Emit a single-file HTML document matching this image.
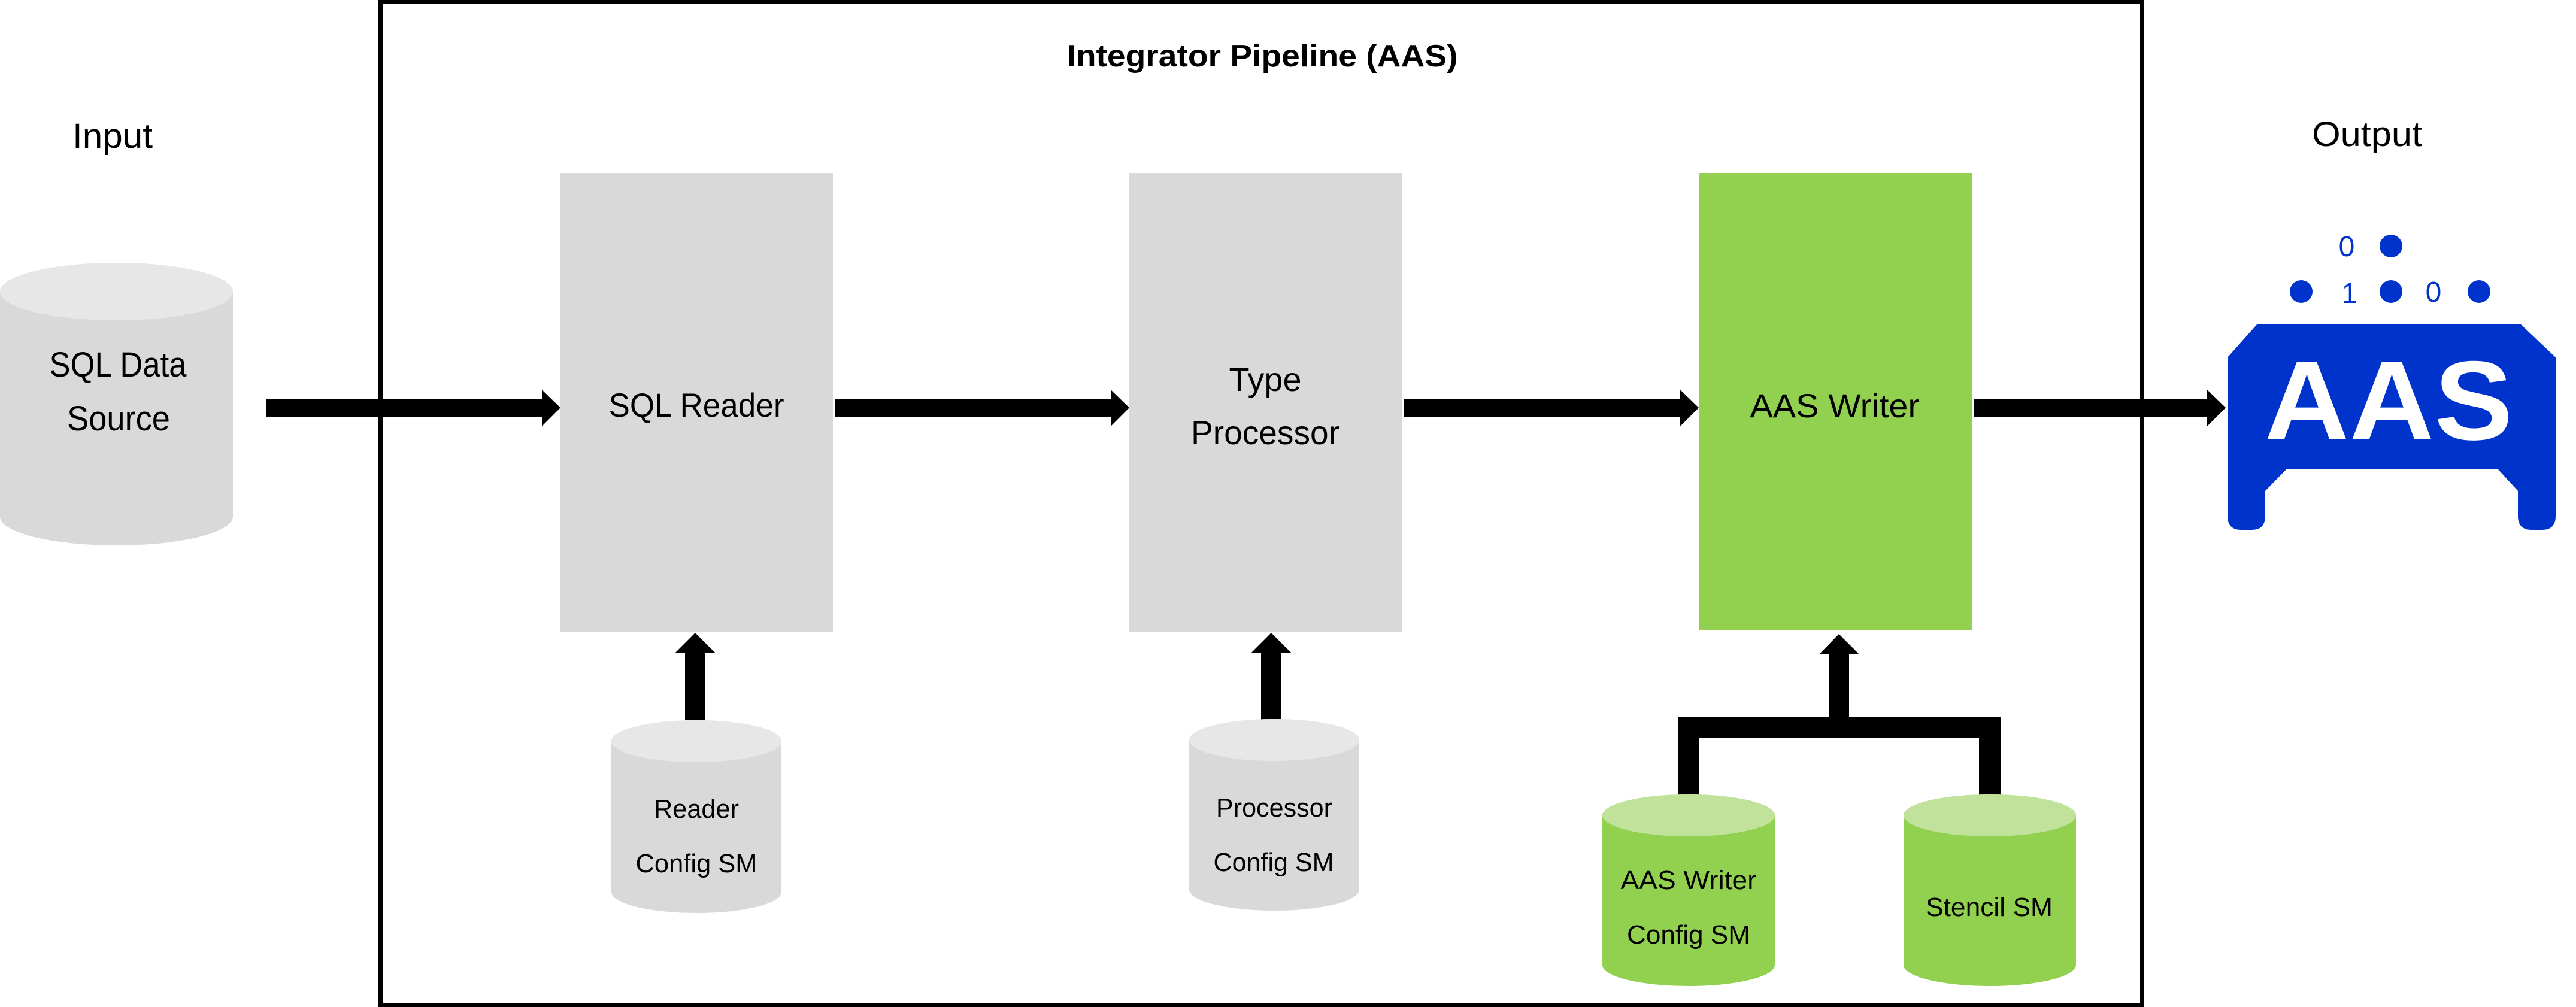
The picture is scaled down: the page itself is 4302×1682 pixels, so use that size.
<!DOCTYPE html>
<html><head><meta charset="utf-8"><style>html,body{margin:0;padding:0;background:#fff}svg{display:block}</style></head>
<body>
<svg width="4302" height="1682" viewBox="0 0 4302 1682" xmlns="http://www.w3.org/2000/svg" font-family="'Liberation Sans', sans-serif">
<rect x="0" y="0" width="4302" height="1682" fill="#fff"/>
<!-- frame -->
<rect x="635.5" y="3.5" width="2942" height="1675" fill="none" stroke="#000" stroke-width="7"/>
<text x="2108" y="111" font-size="52" font-weight="bold" text-anchor="middle" textLength="653" lengthAdjust="spacingAndGlyphs">Integrator Pipeline (AAS)</text>
<text x="188" y="247" font-size="58" text-anchor="middle" textLength="134" lengthAdjust="spacingAndGlyphs">Input</text>
<text x="3953" y="244" font-size="58" text-anchor="middle" textLength="184" lengthAdjust="spacingAndGlyphs">Output</text>

<!-- SQL data source cylinder -->
<path d="M0,487 A194.5,48 0 0 1 389,487 L389,863 A194.5,48 0 0 1 0,863 Z" fill="#d9d9d9"/>
<ellipse cx="194.5" cy="487" rx="194.5" ry="48" fill="#e7e7e7"/>
<text x="197" y="629" font-size="58" text-anchor="middle" textLength="229" lengthAdjust="spacingAndGlyphs">SQL Data</text>
<text x="198" y="719" font-size="58" text-anchor="middle" textLength="172" lengthAdjust="spacingAndGlyphs">Source</text>

<!-- boxes -->
<rect x="936" y="289" width="455" height="767" fill="#d9d9d9"/>
<rect x="1886" y="289" width="455" height="767" fill="#d9d9d9"/>
<rect x="2837" y="289" width="456" height="763" fill="#92d050"/>
<text x="1163" y="696" font-size="56" text-anchor="middle" textLength="293" lengthAdjust="spacingAndGlyphs">SQL Reader</text>
<text x="2113" y="653" font-size="56" text-anchor="middle" textLength="121" lengthAdjust="spacingAndGlyphs">Type</text>
<text x="2113" y="742" font-size="56" text-anchor="middle" textLength="248" lengthAdjust="spacingAndGlyphs">Processor</text>
<text x="3064" y="697" font-size="56" text-anchor="middle" textLength="283" lengthAdjust="spacingAndGlyphs">AAS Writer</text>

<!-- horizontal arrows -->
<g fill="#000">
<polygon points="444,666 905,666 905,651 936,681 905,712 905,696 444,696"/>
<polygon points="1394,666 1855,666 1855,651 1886,681 1855,712 1855,696 1394,696"/>
<polygon points="2344,666 2806,666 2806,651 2837,681 2806,712 2806,696 2344,696"/>
<polygon points="3296,666 3686,666 3686,651 3717,681 3686,712 3686,696 3296,696"/>
<!-- vertical arrows -->
<polygon points="1144,1203 1144,1091 1127,1091 1161,1057 1195,1091 1178,1091 1178,1203"/>
<polygon points="2106,1203 2106,1091 2089,1091 2123,1057 2157,1091 2140,1091 2140,1203"/>
<!-- bracket -->
<polygon points="3054,1197 3054,1093 3038,1093 3071,1059 3105,1093 3088,1093 3088,1197 3341,1197 3341,1328 3305,1328 3305,1233 2838,1233 2838,1328 2803,1328 2803,1197"/>
</g>

<!-- config cylinders -->
<path d="M1021,1238 A142,35 0 0 1 1305,1238 L1305,1490 A142,35 0 0 1 1021,1490 Z" fill="#d9d9d9"/>
<ellipse cx="1163" cy="1238" rx="142" ry="35" fill="#e7e7e7"/>
<text x="1163" y="1366" font-size="44" text-anchor="middle" textLength="142" lengthAdjust="spacingAndGlyphs">Reader</text>
<text x="1163" y="1457" font-size="44" text-anchor="middle" textLength="203" lengthAdjust="spacingAndGlyphs">Config SM</text>

<path d="M1986,1236 A142,35 0 0 1 2270,1236 L2270,1486 A142,35 0 0 1 1986,1486 Z" fill="#d9d9d9"/>
<ellipse cx="2128" cy="1236" rx="142" ry="35" fill="#e7e7e7"/>
<text x="2128" y="1364" font-size="44" text-anchor="middle" textLength="194" lengthAdjust="spacingAndGlyphs">Processor</text>
<text x="2127" y="1455" font-size="44" text-anchor="middle" textLength="201" lengthAdjust="spacingAndGlyphs">Config SM</text>

<path d="M2676,1362 A144,35 0 0 1 2964,1362 L2964,1612 A144,35 0 0 1 2676,1612 Z" fill="#92d050"/>
<ellipse cx="2820" cy="1362" rx="144" ry="35" fill="#c1e29b"/>
<text x="2820" y="1485" font-size="44" text-anchor="middle" textLength="227" lengthAdjust="spacingAndGlyphs">AAS Writer</text>
<text x="2820" y="1576" font-size="44" text-anchor="middle" textLength="206" lengthAdjust="spacingAndGlyphs">Config SM</text>

<path d="M3179,1362 A144,35 0 0 1 3467,1362 L3467,1612 A144,35 0 0 1 3179,1612 Z" fill="#92d050"/>
<ellipse cx="3323" cy="1362" rx="144" ry="35" fill="#c1e29b"/>
<text x="3322" y="1530" font-size="44" text-anchor="middle" textLength="212" lengthAdjust="spacingAndGlyphs">Stencil SM</text>

<!-- AAS icon -->
<path d="M3770,541 L4209,541 L4268,597 L4268,862 Q4268,885 4245,885 L4228,885 Q4205,885 4205,862 L4205,820 L4171,783 L3819,783 L3783,820 L3783,862 Q3783,885 3760,885 L3743,885 Q3720,885 3720,862 L3720,597 Z" fill="#0033cc"/>
<text x="3989" y="734" font-size="188" font-weight="bold" fill="#fff" text-anchor="middle" textLength="415" lengthAdjust="spacingAndGlyphs">AAS</text>
<g fill="#0033cc">
<circle cx="3993" cy="411" r="19"/>
<circle cx="3843" cy="487" r="19"/>
<circle cx="3993" cy="487" r="19"/>
<circle cx="4140" cy="487" r="19"/>
<text x="3919" y="428" font-size="48" text-anchor="middle">0</text>
<text x="3924" y="506" font-size="48" text-anchor="middle">1</text>
<text x="4064" y="504" font-size="48" text-anchor="middle">0</text>
</g>
</svg>
</body></html>
